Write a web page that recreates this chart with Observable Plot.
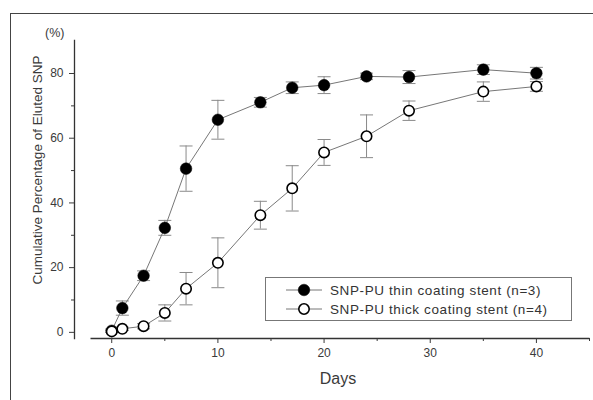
<!DOCTYPE html>
<html>
<head>
<meta charset="utf-8">
<script src="https://cdn.jsdelivr.net/npm/d3@7"></script>
<script src="https://cdn.jsdelivr.net/npm/@observablehq/plot@0.6"></script>
<style>
  html, body { margin: 0; padding: 0; background: #fff; }
  #wrap { position: relative; width: 593px; height: 400px; overflow: hidden; font-family: "Liberation Sans", Arial, sans-serif; }
  #border { position: absolute; left: 10px; top: 13px; width: 700px; height: 500px; border-left: 1.5px solid #444; border-top: 1.5px solid #444; }
  .lbl { position: absolute; color: #3a3a3a; white-space: nowrap; }
  #legend { position: absolute; left: 265px; top: 277px; width: 307px; height: 44px; border: 1px solid #777; background: #fff; box-sizing: border-box; }
  .row { position: absolute; left: 18px; height: 20px; display: flex; align-items: center; font-size: 13.5px; letter-spacing: 0.6px; color: #333; }
  .row svg { margin-right: 6px; }
</style>
</head>
<body>
<div id="wrap">
  <div id="border"></div>
  <div id="chart" style="position:absolute;left:0;top:0;"></div>
  <div class="lbl" style="left:45px;top:26px;font-size:12.5px;">(%)</div>
  <div class="lbl" id="ylab" style="left:37px;top:170px;font-size:13.5px;transform:translate(-50%,-50%) rotate(-90deg);">Cumulative Percentage of Eluted SNP</div>
  <div class="lbl" style="left:338px;top:379px;font-size:16px;transform:translate(-50%,-50%);">Days</div>
  <div id="legend"></div>
</div>
<script>
// ---- data ----
const days = [0, 1, 3, 5, 7, 10, 14, 17, 20, 24, 28, 35, 40];
const thinMean = [0.5, 7.5, 17.5, 32.3, 50.6, 65.7, 71.1, 75.6, 76.4, 79.1, 78.9, 81.2, 80.1];
const thinErr  = [0.5, 2.2, 1.5, 2.3, 7.0, 6.0, 1.5, 1.8, 2.6, 1.0, 2.0, 1.5, 1.8];
const thickMean = [0.3, 1.1, 1.9, 6.0, 13.5, 21.5, 36.2, 44.5, 55.6, 60.6, 68.5, 74.4, 76.0];
const thickErr  = [0.3, 0.5, 0.8, 2.5, 5.0, 7.7, 4.3, 7.0, 4.0, 6.6, 3.0, 3.0, 1.5];
const seriesNames = ["SNP-PU thin coating stent (n=3)", "SNP-PU thick coating stent (n=4)"];
const yTicks = [0, 20, 40, 60, 80];
const yMinor = [10, 30, 50, 70];
const xTicks = [0, 10, 20, 30, 40];
const xMinor = [5, 15, 25, 35, 45];
const xDomain = [-2, 45];
const yDomain = [-1.9, 90.2];

const thin = days.map((d, i) => ({day: d, v: thinMean[i], e: thinErr[i]}));
const thick = days.map((d, i) => ({day: d, v: thickMean[i], e: thickErr[i]}));
const xAxisLine = [{y: yDomain[0], x1: xDomain[0], x2: xDomain[1]}];

const cap = { draw(ctx, size) { const r = Math.sqrt(size / Math.PI); ctx.moveTo(-r, 0); ctx.lineTo(r, 0); } };

function errMarks(rows) {
  return [
    Plot.ruleX(rows, {x: "day", y1: d => d.v - d.e, y2: d => d.v + d.e, stroke: "#8a8a8a", strokeWidth: 1}),
    Plot.dot(rows, {x: "day", y: d => d.v + d.e, symbol: cap, r: 6.5, fill: "none", stroke: "#8a8a8a", strokeWidth: 1}),
    Plot.dot(rows, {x: "day", y: d => d.v - d.e, symbol: cap, r: 6.5, fill: "none", stroke: "#8a8a8a", strokeWidth: 1})
  ];
}

const chart = Plot.plot({
  width: 593,
  height: 400,
  marginTop: 40,
  marginBottom: 62,
  marginLeft: 74,
  marginRight: 4,
  style: {fontFamily: "Liberation Sans, Arial, sans-serif", fontSize: "12px", color: "#3a3a3a", background: "transparent"},
  x: {domain: xDomain, insetLeft: 16},
  y: {domain: yDomain},
  marks: [
    Plot.frame({anchor: "left", stroke: "#333", strokeWidth: 1.3}),
    Plot.link(xAxisLine, {x1: "x1", x2: "x2", y1: "y", y2: "y", stroke: "#333", strokeWidth: 1.3}),
    Plot.axisY({ticks: yTicks, tickSize: 5, tickPadding: 6, label: null, tickFormat: d => d}),
    Plot.axisY({ticks: yMinor, tickSize: 3, text: null, label: null}),
    Plot.axisX({ticks: xTicks, tickSize: 5, tickPadding: 5, label: null, tickFormat: d => d}),
    Plot.axisX({ticks: xMinor, tickSize: 3, text: null, label: null}),
    ...errMarks(thin),
    ...errMarks(thick),
    Plot.line(thin, {x: "day", y: "v", stroke: "#777", strokeWidth: 1}),
    Plot.line(thick, {x: "day", y: "v", stroke: "#777", strokeWidth: 1}),
    Plot.dot(thin, {x: "day", y: "v", r: 5.8, fill: "#000", stroke: "#000", strokeWidth: 0.5}),
    Plot.dot(thick, {x: "day", y: "v", r: 5.2, fill: "#fff", stroke: "#000", strokeWidth: 1.6})
  ]
});
document.getElementById("chart").appendChild(chart);

// legend
const legend = document.getElementById("legend");
seriesNames.forEach((name, i) => {
  const row = document.createElement("div");
  row.className = "row";
  row.style.top = (i === 0 ? 2 : 21) + "px";
  const filled = i === 0;
  row.innerHTML = `<svg width="40" height="16"><line x1="2" y1="8" x2="38" y2="8" stroke="#777" stroke-width="1"/>` +
    `<circle cx="20" cy="8" r="${filled ? 5.8 : 5.2}" fill="${filled ? "#000" : "#fff"}" stroke="#000" stroke-width="${filled ? 0.5 : 1.6}"/></svg>` +
    `<span>${name}</span>`;
  legend.appendChild(row);
});
</script>
</body>
</html>
